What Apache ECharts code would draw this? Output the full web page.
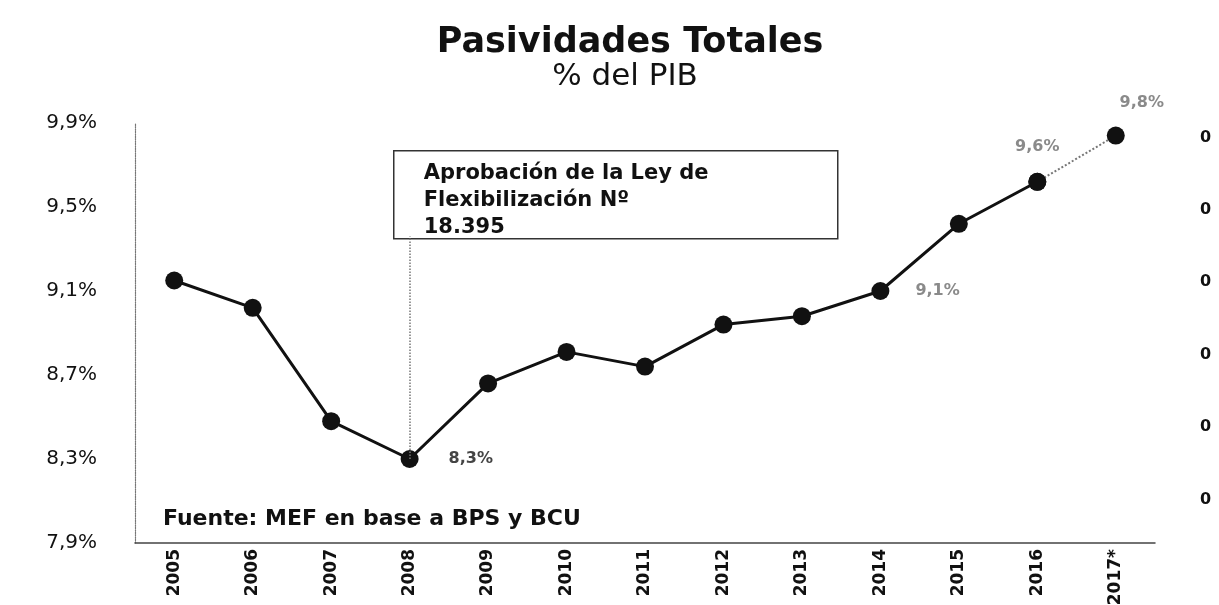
<!DOCTYPE html>
<html>
<head>
<meta charset="utf-8">
<script src="https://cdn.jsdelivr.net/npm/echarts@6/dist/echarts.min.js"></script>
<style>
html,body{margin:0;padding:0;background:#fff;}
#chart{width:1219px;height:605px;}
</style>
</head>
<body>
<div id="chart"></div>
<script>
// ---- data ----
var years = ['2005','2006','2007','2008','2009','2010','2011','2012','2013','2014','2015','2016','2017*'];
var pasividades = [9.15, 9.02, 8.48, 8.3, 8.66, 8.81, 8.74, 8.94, 8.98, 9.1, 9.42, 9.62, 9.84];
var labelledYears = ['2008','2014','2016','2017*'];
var labelTexts = ['8,3%','9,1%','9,6%','9,8%'];
var yTicks = [7.9, 8.3, 8.7, 9.1, 9.5, 9.9];
var rightTicks = [0, 1, 2, 3, 4, 5];
var projectedFrom = '2016';
var eventYear = '2008';
var eventValue = 8.3;
var annotTop = 9.36;

var projIdx = years.indexOf(projectedFrom);
var mainData = pasividades.map(function (v, i) {
  var item = { value: i <= projIdx ? v : null };
  var li = labelledYears.indexOf(years[i]);
  if (li >= 0 && i <= projIdx) {
    var pos = { '2008': ['right', 30, '#444'], '2014': ['right', 26, '#8a8a8a'], '2016': ['top', 18, '#8a8a8a'] }[years[i]];
    item.label = { show: true, position: pos[0], distance: pos[1], color: pos[2], formatter: labelTexts[li] };
  }
  return item;
});
var projData = pasividades.map(function (v, i) {
  var item = { value: i >= projIdx ? v : null };
  var li = labelledYears.indexOf(years[i]);
  if (li >= 0 && i > projIdx) {
    item.label = { show: true, position: 'top', distance: 16, offset: [26, 0], color: '#8a8a8a', formatter: labelTexts[li] };
  }
  return item;
});

var chart = echarts.init(document.getElementById('chart'), null, { renderer: 'canvas' });
var FONT = 'DejaVu Sans';
chart.setOption({
  backgroundColor: '#ffffff',
  animation: false,
  title: [
    { text: 'Pasividades Totales', left: 625, top: 20, textAlign: 'center',
      textStyle: { fontFamily: FONT, fontSize: 35, fontWeight: 'bold', color: '#111' } },
    { text: '% del PIB', left: 620, top: 56, textAlign: 'center',
      textStyle: { fontFamily: FONT, fontSize: 31, fontWeight: 'normal', color: '#111' } }
  ],
  grid: { left: 135, right: 64, top: 123, bottom: 62, outerBoundsMode: 'none', containLabel: false },
  xAxis: {
    type: 'category',
    data: years,
    boundaryGap: true,
    axisLine: { show: true, onZero: false, lineStyle: { color: '#444', width: 1.5 } },
    axisTick: { show: false },
    axisLabel: { rotate: 90, margin: 6, fontFamily: FONT, fontSize: 17, fontWeight: 'bold', color: '#111', interval: 0 },
    splitLine: { show: false }
  },
  yAxis: [
    {
      type: 'value', min: 7.9, max: 9.9,
      axisLine: { show: true, lineStyle: { color: '#777', width: 1.2, type: 'dotted' } },
      axisTick: { show: false },
      splitLine: { show: false },
      axisLabel: {
        customValues: yTicks, margin: 38, fontFamily: FONT, fontSize: 20, color: '#111',
        formatter: function (v) { return v.toFixed(1).replace('.', ',') + '%'; }
      }
    },
    {
      type: 'value', position: 'right', min: -0.6, max: 5.2,
      axisLine: { show: false }, axisTick: { show: false }, splitLine: { show: false },
      axisLabel: {
        customValues: rightTicks, margin: 45, fontFamily: FONT, fontSize: 16, fontWeight: 'bold', color: '#111',
        formatter: function () { return '0'; }
      }
    }
  ],
  series: [
    {
      type: 'line', name: 'Pasividades', data: mainData, yAxisIndex: 0,
      symbol: 'circle', symbolSize: 18, connectNulls: false,
      itemStyle: { color: '#111' },
      lineStyle: { color: '#111', width: 3 },
      label: { fontFamily: FONT, fontSize: 16, fontWeight: 'bold' },
      markLine: {
        silent: true, symbol: 'none',
        lineStyle: { color: '#777', type: 'dotted', width: 1.5 },
        label: { show: false },
        data: [[{ coord: [eventYear, eventValue] }, { coord: [eventYear, annotTop] }]]
      },
      z: 3
    },
    {
      type: 'line', name: 'Proyección', data: projData, yAxisIndex: 0,
      symbol: 'circle', symbolSize: 18, showSymbol: true,
      itemStyle: { color: '#111' },
      lineStyle: { color: '#777', width: 2, type: 'dotted' },
      label: { fontFamily: FONT, fontSize: 16, fontWeight: 'bold' },
      z: 2
    }
  ],
  graphic: [
    {
      type: 'group', left: 393, top: 150,
      children: [
        { type: 'rect', shape: { x: 0, y: 0, width: 444, height: 88 },
          style: { fill: '#fff', stroke: '#333', lineWidth: 1.5 } },
        { type: 'text', x: 30, y: 9,
          style: { text: 'Aprobación de la Ley de\nFlexibilización Nº\n18.395', fontFamily: FONT, fontSize: 21,
                   fontWeight: 'bold', fill: '#111', lineHeight: 27 } }
      ]
    },
    { type: 'text', left: 163, top: 508,
      style: { text: 'Fuente: MEF en base a BPS y BCU', fontFamily: FONT, fontSize: 22, fontWeight: 'bold', fill: '#111' } }
  ]
});
</script>
</body>
</html>
